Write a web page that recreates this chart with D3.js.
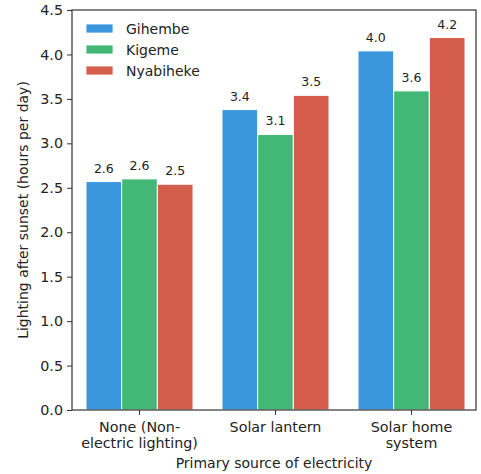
<!DOCTYPE html>
<html>
<head>
<meta charset="utf-8">
<script src="https://cdn.jsdelivr.net/npm/d3@7"></script>
<style>
  html, body { margin: 0; padding: 0; background: #fff; }
  svg { display: block; font-family: "DejaVu Sans", sans-serif; }
</style>
</head>
<body>
<svg id="chart" width="481" height="474"></svg>
<script>
// Hours of lighting after sunset by primary electricity source and camp
const categories = [["None (Non-", "electric lighting)"], ["Solar lantern"], ["Solar home", "system"]];
const categoryKeys = ["none", "lantern", "shs"];
const series = ["Gihembe", "Kigeme", "Nyabiheke"];
const gihembe = [2.57, 3.38, 4.04];
const kigeme = [2.60, 3.10, 3.59];
const nyabiheke = [2.54, 3.54, 4.19];
const yTicks = [0.0, 0.5, 1.0, 1.5, 2.0, 2.5, 3.0, 3.5, 4.0, 4.5];
const colors = ["#3a96dd", "#43b775", "#d45d4c"];

const values = [gihembe, kigeme, nyabiheke];

const svg = d3.select("#chart");
const margin = { left: 72, right: 5, top: 10, bottom: 64 };
const W = 481, H = 474;
const x0 = margin.left, x1 = W - margin.right;
const y0 = H - margin.bottom, y1 = margin.top;

// groups sit inside the frame with a small inset on each side
const x = d3.scaleBand().domain(categoryKeys).range([x0 + 14, x1 - 11])
  .paddingInner(0.213).paddingOuter(0);
const xs = d3.scaleBand().domain(series).range([0, x.bandwidth()]);
const y = d3.scaleLinear().domain([0, 4.5]).range([y0, y1]);

// bars with value labels
const g = svg.append("g");
series.forEach((s, si) => {
  g.selectAll(null).data(values[si]).enter().append("rect")
    .attr("x", (d, i) => x(categoryKeys[i]) + xs(s))
    .attr("y", d => y(d))
    .attr("width", xs.bandwidth())
    .attr("height", d => y(0) - y(d))
    .attr("fill", colors[si])
    .attr("stroke", "#ffffff")
    .attr("stroke-width", 1);
  g.selectAll(null).data(values[si]).enter().append("text")
    .attr("x", (d, i) => x(categoryKeys[i]) + xs(s) + xs.bandwidth() / 2)
    .attr("y", d => y(d) - 9)
    .attr("text-anchor", "middle")
    .attr("font-size", 12.5)
    .attr("fill", "#222")
    .text(d => d3.format(".1f")(d));
});

// frame
svg.append("rect")
  .attr("x", x0).attr("y", y1)
  .attr("width", x1 - x0).attr("height", y0 - y1)
  .attr("fill", "none").attr("stroke", "#333").attr("stroke-width", 1.2);

// y axis
const yAxis = svg.append("g").attr("transform", `translate(${x0},0)`)
  .call(d3.axisLeft(y).tickValues(yTicks).tickFormat(d3.format(".1f")).tickSize(5).tickPadding(4));
yAxis.select(".domain").remove();
yAxis.selectAll("line").attr("stroke", "#333").attr("stroke-width", 1);
yAxis.selectAll("text").attr("font-size", 14.3).attr("fill", "#222")
  .attr("font-family", "DejaVu Sans, sans-serif");

// x axis with two-line category labels
const xAxis = svg.append("g").attr("transform", `translate(0,${y0})`)
  .call(d3.axisBottom(x).tickSize(5).tickFormat(""));
xAxis.select(".domain").remove();
xAxis.selectAll("line").attr("stroke", "#333").attr("stroke-width", 1);
xAxis.selectAll(".tick").each(function(d, i) {
  const t = d3.select(this).append("text")
    .attr("text-anchor", "middle")
    .attr("font-size", 14.3).attr("fill", "#222")
    .attr("font-family", "DejaVu Sans, sans-serif");
  categories[i].forEach((line, li) => {
    t.append("tspan").attr("x", 0).attr("y", 22 + li * 16).text(line);
  });
});

// axis titles
svg.append("text")
  .attr("x", (x0 + x1) / 2).attr("y", 468)
  .attr("text-anchor", "middle").attr("font-size", 14).attr("fill", "#222")
  .text("Primary source of electricity");
svg.append("text")
  .attr("transform", `translate(28,${(y0 + y1) / 2}) rotate(-90)`)
  .attr("text-anchor", "middle").attr("font-size", 14).attr("fill", "#222")
  .text("Lighting after sunset (hours per day)");

// legend
const legend = svg.append("g").attr("transform", "translate(86,24)");
series.forEach((s, i) => {
  const row = legend.append("g").attr("transform", `translate(0,${i * 21})`);
  row.append("rect").attr("width", 27).attr("height", 9)
    .attr("fill", colors[i]).attr("stroke", "#fff").attr("stroke-width", 0.8);
  row.append("text").attr("x", 40).attr("y", 10)
    .attr("font-size", 14).attr("fill", "#222").text(s);
});
</script>
</body>
</html>
